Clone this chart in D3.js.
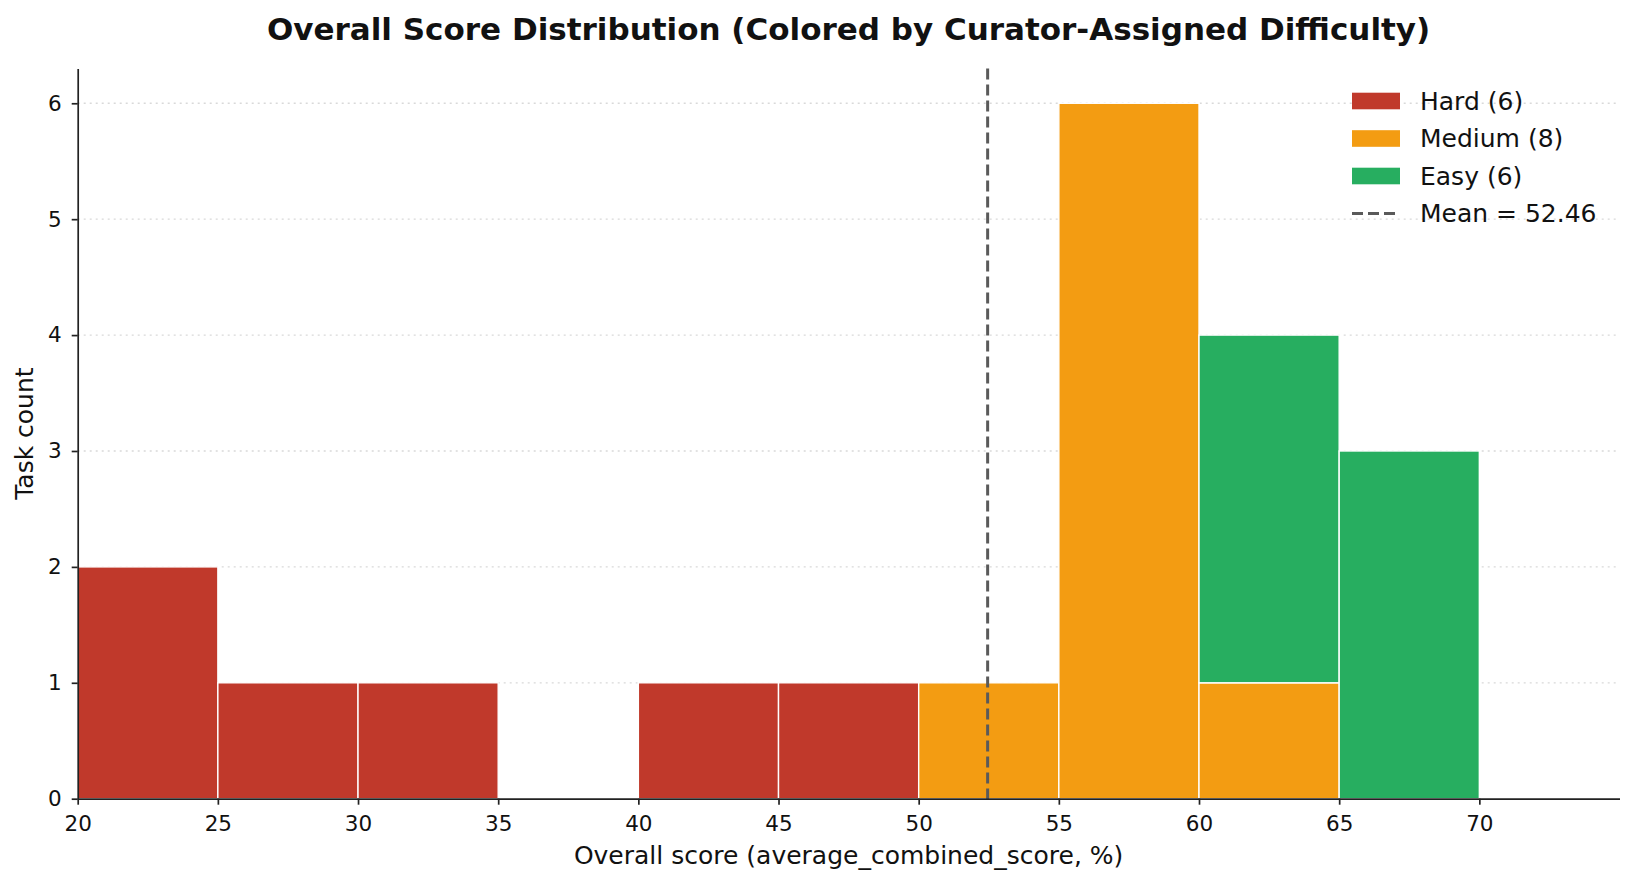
<!DOCTYPE html>
<html>
<head>
<meta charset="utf-8">
<script src="https://cdn.jsdelivr.net/npm/d3@7"></script>
<style>
  body { margin: 0; background: #fff; }
  svg text { font-family: "DejaVu Sans", sans-serif; fill: #111; }
</style>
</head>
<body>
<svg id="chart" width="1635" height="885"></svg>
<script>
// bin edges (5-point bins) and stacked counts per difficulty
const binStarts = [20, 25, 30, 35, 40, 45, 50, 55, 60, 65];
const binWidth = 5;
const hardCounts   = [2, 1, 1, 0, 1, 1, 0, 0, 0, 0];
const mediumCounts = [0, 0, 0, 0, 0, 0, 1, 6, 1, 0];
const easyCounts   = [0, 0, 0, 0, 0, 0, 0, 0, 3, 3];
const seriesNames  = ["Hard (6)", "Medium (8)", "Easy (6)"];
const seriesColors = ["#c0392b", "#f39c12", "#27ae60"];
const meanScore = 52.46;
const xTicks = [20, 25, 30, 35, 40, 45, 50, 55, 60, 65, 70];
const yTicks = [0, 1, 2, 3, 4, 5, 6];

const svg = d3.select("#chart");
const W = 1635, H = 885;
const plot = { left: 77.7, right: 1619.5, top: 68.5, bottom: 798.7 };

const x = d3.scaleLinear().domain([20, 75]).range([plot.left, plot.right]);
const y = d3.scaleLinear().domain([0, 6.3]).range([plot.bottom, plot.top]);

// grid lines (dotted, light)
svg.append("g")
  .selectAll("line")
  .data(yTicks.filter(d => d > 0))
  .join("line")
  .attr("x1", x.range()[0])
  .attr("x2", x.range()[1])
  .attr("y1", d => y(d))
  .attr("y2", d => y(d))
  .attr("stroke", "#d9d9d9")
  .attr("stroke-width", 1.3)
  .attr("stroke-dasharray", "2,4");

// stack the three series
const rows = binStarts.map((b, i) => ({ start: b, hard: hardCounts[i], medium: mediumCounts[i], easy: easyCounts[i] }));
const stack = d3.stack().keys(["hard", "medium", "easy"]);
const layers = stack(rows);

svg.append("g")
  .selectAll("g")
  .data(layers)
  .join("g")
  .attr("fill", (d, i) => seriesColors[i])
  .selectAll("rect")
  .data(d => d.filter(s => s[1] - s[0] > 0))
  .join("rect")
  .attr("x", d => x(d.data.start))
  .attr("width", d => x(d.data.start + binWidth) - x(d.data.start))
  .attr("y", d => y(d[1]))
  .attr("height", d => y(d[0]) - y(d[1]))
  .attr("stroke", "#ffffff")
  .attr("stroke-width", 1.4);

// mean line
svg.append("line")
  .attr("x1", x(meanScore))
  .attr("x2", x(meanScore))
  .attr("y1", y(6.3))
  .attr("y2", y(0))
  .attr("stroke", "#5a5a5a")
  .attr("stroke-width", 3)
  .attr("stroke-dasharray", "11,5");

// axes
const xAxis = svg.append("g")
  .attr("transform", `translate(0,${y(0)})`)
  .call(d3.axisBottom(x).tickValues(xTicks).tickSize(6).tickPadding(11).tickSizeOuter(0));
const yAxis = svg.append("g")
  .attr("transform", `translate(${x(20)},0)`)
  .call(d3.axisLeft(y).tickValues(yTicks).tickFormat(d3.format("d")).tickSize(6).tickPadding(10).tickSizeOuter(0));

[xAxis, yAxis].forEach(a => {
  a.selectAll("path, line").attr("stroke", "#222").attr("stroke-width", 1.7);
  a.selectAll("text").style("font-size", "21.5px").attr("fill", "#111");
});

// titles
const cx = (plot.left + plot.right) / 2;
svg.append("text")
  .attr("x", cx).attr("y", 40)
  .attr("text-anchor", "middle")
  .style("font-size", "31px").style("font-weight", "bold")
  .text("Overall Score Distribution (Colored by Curator-Assigned Difficulty)");

svg.append("text")
  .attr("x", cx).attr("y", 864)
  .attr("text-anchor", "middle")
  .style("font-size", "25px")
  .text("Overall score (average_combined_score, %)");

svg.append("text")
  .attr("transform", `translate(33,${(plot.top + plot.bottom) / 2}) rotate(-90)`)
  .attr("text-anchor", "middle")
  .style("font-size", "25px")
  .text("Task count");

// legend
const legend = svg.append("g").attr("transform", "translate(1352,101)");
const legendItems = seriesNames.map((n, i) => ({ name: n, color: seriesColors[i], type: "rect" }))
  .concat([{ name: "Mean = " + meanScore.toFixed(2), color: "#5a5a5a", type: "line" }]);

const li = legend.selectAll("g")
  .data(legendItems)
  .join("g")
  .attr("transform", (d, i) => `translate(0,${i * 37.5})`);

li.filter(d => d.type === "rect").append("rect")
  .attr("x", 0).attr("y", -8.3)
  .attr("width", 48).attr("height", 16.6)
  .attr("fill", d => d.color);

li.filter(d => d.type === "line").append("line")
  .attr("x1", 0).attr("x2", 48).attr("y1", 0).attr("y2", 0)
  .attr("stroke", d => d.color)
  .attr("stroke-width", 3)
  .attr("stroke-dasharray", "11,5");

li.append("text")
  .attr("x", 68).attr("y", 8.8)
  .style("font-size", "25px")
  .text(d => d.name);
</script>
</body>
</html>
